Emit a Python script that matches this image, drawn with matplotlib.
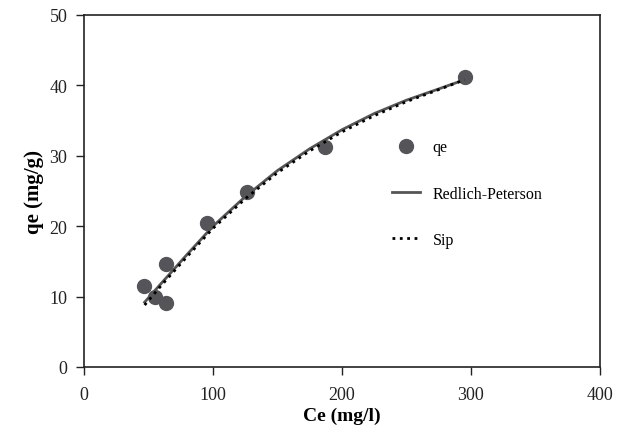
import matplotlib
matplotlib.use('Agg')
import matplotlib.pyplot as plt
import numpy as np

plt.rcParams['font.family'] = ['Liberation Serif', 'DejaVu Serif']

# experimental points
ce = [46.6, 55.1, 63.7, 63.7, 95.5, 126.6, 187.2, 295.1]
qe = [11.5, 9.9, 9.1, 14.6, 20.5, 24.9, 31.3, 41.2]

# model curves
ce_fit = [47, 60, 80, 100, 125, 150, 175, 200, 225, 250, 275, 295]
q_rp = [9.2, 11.9, 16.0, 20.0, 24.2, 27.9, 31.0, 33.7, 36.0, 37.9, 39.5, 40.8]
q_sip = [8.8, 11.6, 15.7, 19.7, 23.9, 27.6, 30.7, 33.4, 35.7, 37.7, 39.4, 40.8]

x_ticks = [0, 100, 200, 300, 400]
y_ticks = [0, 10, 20, 30, 40, 50]

fig = plt.figure(figsize=(6.19, 4.31), dpi=100)
ax = fig.add_axes([0.1357, 0.1462, 0.8336, 0.8167])

ax.plot(ce, qe, 'o', color='#555559', markersize=10, label='qe', zorder=3)
ax.plot(ce_fit, q_rp, '-', color='#555555', lw=2, label='Redlich-Peterson', zorder=4)
ax.plot(ce_fit, q_sip, ':', color='black', lw=2, label='Sip', zorder=5)

ax.set_xlim(0, 400)
ax.set_ylim(0, 50)
ax.set_xticks(x_ticks)
ax.set_yticks(y_ticks)
ax.tick_params(direction='out', length=6, width=1, labelsize=13, colors='#222222')
ax.tick_params(axis='x', pad=8)
ax.tick_params(axis='y', pad=6)
for s in ax.spines.values():
    s.set_linewidth(1.2)
    s.set_color('#222222')

ax.set_xlabel('Ce (mg/l)', fontsize=14, fontweight='bold', labelpad=2)
ax.set_ylabel('qe (mg/g)', fontsize=15, fontweight='bold', labelpad=4)

ax.legend(loc='upper left', bbox_to_anchor=(0.584, 0.665), frameon=False,
          fontsize=11.5, labelspacing=1.9, handlelength=1.75, handletextpad=0.8,
          borderaxespad=0)

fig.savefig('out.png', dpi=100)
